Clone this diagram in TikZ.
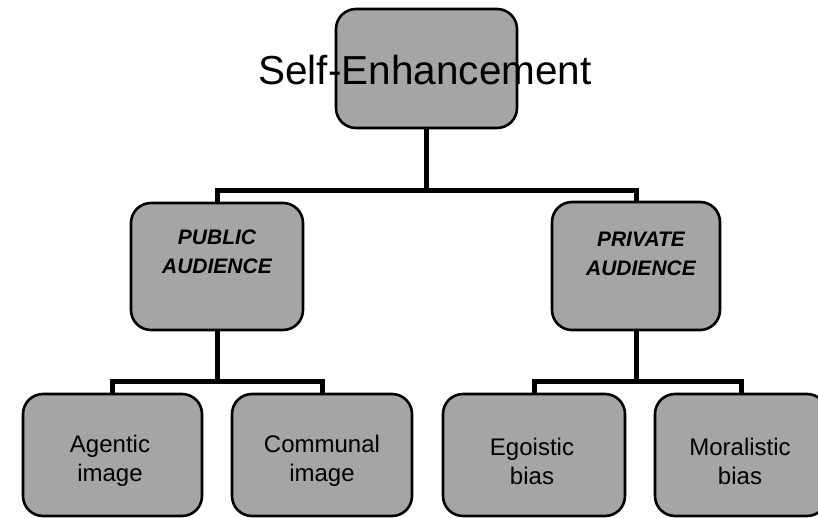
\documentclass[tikz,border=0pt]{standalone}
\usepackage{fontspec}
\setmainfont{Liberation Sans}
\begin{document}
\begin{tikzpicture}[x=1pt,y=-1pt,
  box/.style={draw=black, line width=2.6pt, rounded corners=20pt, fill={rgb,255:red,165;green,165;blue,165}, inner sep=0pt},
  conn/.style={draw=black, line width=5pt, line join=miter},
  lbl/.style={align=center, font=\fontsize{24}{29}\selectfont, inner sep=0pt},
  blbl/.style={align=center, font=\fontsize{21}{29}\selectfont\bfseries\itshape, inner sep=0pt}]
\useasboundingbox (0,0) rectangle (818,518);
\clip (0,0) rectangle (818,518);
% boxes
\node[box, minimum width=181pt, minimum height=119pt] (top) at (426.5,68.5) {};
\node[box, minimum width=172pt, minimum height=127pt] (pub) at (217,266.5) {};
\node[box, minimum width=168pt, minimum height=128pt] (priv) at (636,266) {};
\node[box, minimum width=179pt, minimum height=122pt] (ag) at (112.5,455) {};
\node[box, minimum width=180pt, minimum height=122pt] (com) at (322,455) {};
\node[box, minimum width=182pt, minimum height=122pt] (ego) at (534,455) {};
\node[box, minimum width=172pt, minimum height=122pt] (mor) at (741,455) {};
% connectors
\coordinate (j1) at (426.5,191);
\coordinate (j2) at (217,381);
\coordinate (j3) at (636,381);
\draw[conn] (top.south) -- (j1) -| (pub.north);
\draw[conn] (j1) -| (priv.north);
\draw[conn] (pub.south) -- (j2) -| (ag.north);
\draw[conn] (j2) -| (com.north);
\draw[conn] (priv.south) -- (j3) -| (ego.north);
\draw[conn] (j3) -| (mor.north);
% texts
\node[inner sep=0pt, font=\fontsize{40.5}{44}\selectfont] (toptext) at (425,70) {Self-Enhancement};
\node[blbl] (pubtext) at (217,252) {PUBLIC\\AUDIENCE};
\node[blbl] (privtext) at (641,254) {PRIVATE\\AUDIENCE};
\node[lbl] (agtext) at (110,461) {Agentic\\image};
\node[lbl] (comtext) at (322,461) {Communal\\image};
\node[lbl] (egotext) at (532,461) {Egoistic\\bias};
\node[lbl] (mortext) at (740,461) {Moralistic\\bias};
\end{tikzpicture}
\end{document}
